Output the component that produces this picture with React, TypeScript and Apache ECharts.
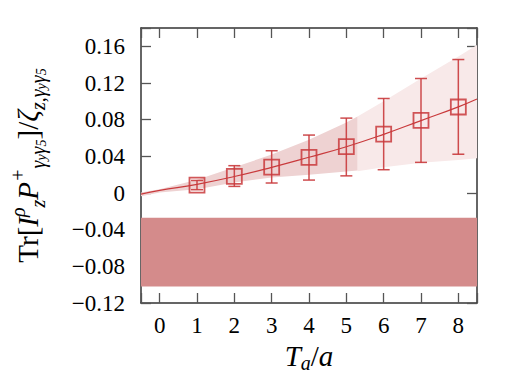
import React, { useEffect, useRef } from "react";
import * as echarts from "echarts";

// Data points (T_a/a, ratio and error range)
const tValues = [1, 2, 3, 4, 5, 6, 7, 8];
const ratioMean = [0.0087, 0.0181, 0.0283, 0.0388, 0.0505, 0.0643, 0.0793, 0.0938];
const ratioLow = [0.0036, 0.0072, 0.0109, 0.0141, 0.0187, 0.0254, 0.0334, 0.0423];
const ratioHigh = [0.0137, 0.0298, 0.0461, 0.0632, 0.0817, 0.1031, 0.1249, 0.1456];

// Fit curve
const fitT = [-0.5, 0, 1, 2, 3, 4, 5, 6, 7, 8, 8.5];
const fitMean = [-0.0012, 0.0028, 0.0095, 0.018, 0.028, 0.039, 0.0505, 0.064, 0.079, 0.094, 0.1025];

// Fit error band (fit range)
const bandT = [-0.5, 0, 1, 2, 3, 4, 5, 5.3];
const bandUpper = [0.0005, 0.004, 0.0145, 0.028, 0.042, 0.058, 0.077, 0.0835];
const bandLower = [-0.0035, 0.0005, 0.004, 0.0115, 0.017, 0.02, 0.0235, 0.0245];

// Extrapolated error band
const extT = [5.3, 6, 7, 8, 8.5];
const extUpper = [0.0835, 0.1, 0.125, 0.149, 0.1615];
const extLower = [0.0236, 0.028, 0.033, 0.036, 0.038];

// Horizontal constant band
const constBand = [-0.102, -0.027];

const xRange = [-0.5, 8.5];
const yRange = [-0.12, 0.18];
const yStep = 0.04;

const RED = "#c93a3c";
const FONT = "Liberation Serif";

function bandSeries(ts: number[], up: number[], lo: number[], color: string, z: number) {
  return {
    type: "custom",
    silent: true,
    z,
    data: [0],
    renderItem: (_p: any, api: any) => {
      const pts: number[][] = [];
      for (let i = 0; i < ts.length; i++) pts.push(api.coord([ts[i], up[i]]));
      for (let i = ts.length - 1; i >= 0; i--) pts.push(api.coord([ts[i], lo[i]]));
      return { type: "polygon", shape: { points: pts }, style: { fill: color } };
    },
  };
}

export default function App() {
  const ref = useRef<HTMLDivElement>(null);
  useEffect(() => {
    if (!ref.current) return;
    const chart = echarts.init(ref.current, undefined, { renderer: "svg" });
    const axisLine = { lineStyle: { color: "#333", width: 1.5 } };
    const tick = { inside: true, length: 10, lineStyle: { color: "#555", width: 1.3 } };
    const xCommon = {
      type: "value",
      min: xRange[0],
      max: xRange[1],
      splitNumber: 9,
      minInterval: 1,
      maxInterval: 1,
      splitLine: { show: false },
      axisLine: { ...axisLine, onZero: false },
      axisTick: tick,
    };
    const yCommon = {
      type: "value",
      min: yRange[0],
      max: yRange[1],
      interval: yStep,
      splitLine: { show: false },
      axisLine: { ...axisLine, onZero: false },
      axisTick: tick,
    };
    chart.setOption({
      animation: false,
      grid: { left: 139, top: 28, right: 46, bottom: 88, containLabel: false },
      xAxis: [
        {
          ...xCommon,
          position: "bottom",
          axisLabel: {
            margin: 11,
            fontFamily: FONT,
            fontSize: 23,
            color: "#000",
            formatter: (v: number) => (Number.isInteger(v) ? String(v) : ""),
          },
          name: "{it|T}{sub|a}{rm|/}{it|a}",
          nameLocation: "middle",
          nameGap: 33,
          nameTextStyle: {
            rich: {
              it: { fontFamily: FONT, fontStyle: "italic", fontSize: 29, color: "#000", lineHeight: 34 },
              rm: { fontFamily: FONT, fontSize: 29, color: "#000", lineHeight: 34 },
              sub: { fontFamily: FONT, fontStyle: "italic", fontSize: 20, color: "#000", lineHeight: 20, verticalAlign: "bottom" },
            },
          },
        },
        { ...xCommon, position: "top", axisLabel: { show: false } },
      ],
      yAxis: [
        {
          ...yCommon,
          position: "left",
          axisLabel: {
            margin: 16,
            fontFamily: FONT,
            fontSize: 23,
            color: "#000",
            formatter: (v: number) => {
              if (v > yRange[1] - yStep / 2) return "";
              if (Math.abs(v) < 1e-9) return "0";
              return (v < 0 ? "\u2212" : "") + Math.abs(v).toFixed(2);
            },
          },
          name:
            "{rm|Tr[}{it|I}{sup|ρ}{sub|z}{it|P}{sup|+}{sub|γ}{ss|y}{sub|γ}{ss|5}{rm|]/}{it|ζ}{sub|z,γ}{ss|y}{sub|γ}{ss|5}",
          nameLocation: "middle",
          nameRotate: 90,
          nameGap: 93,
          nameTextStyle: {
            rich: {
              it: { fontFamily: FONT, fontStyle: "italic", fontSize: 29, color: "#000", lineHeight: 40 },
              rm: { fontFamily: FONT, fontSize: 29, color: "#000", lineHeight: 40 },
              sup: { fontFamily: FONT, fontStyle: "italic", fontSize: 20, color: "#000", lineHeight: 22, verticalAlign: "top" },
              sub: { fontFamily: FONT, fontStyle: "italic", fontSize: 20, color: "#000", lineHeight: 18, verticalAlign: "bottom" },
              ss: { fontFamily: FONT, fontStyle: "italic", fontSize: 14, color: "#000", lineHeight: 10, verticalAlign: "bottom" },
            },
          },
        },
        { ...yCommon, position: "right", axisLabel: { show: false } },
      ],
      series: [
        bandSeries(extT, extUpper, extLower, "#f8e9e9", 1),
        bandSeries(bandT, bandUpper, bandLower, "#eed2d2", 2),
        {
          type: "line",
          z: 3,
          data: fitT.map((t, i) => [t, fitMean[i]]),
          smooth: true,
          showSymbol: false,
          lineStyle: { color: RED, width: 1.2 },
          markArea: {
            silent: true,
            itemStyle: { color: "#d48b8b", opacity: 1 },
            data: [[{ yAxis: constBand[1] }, { yAxis: constBand[0] }]],
          },
        },
        {
          type: "custom",
          z: 4,
          data: tValues.map((t, i) => [t, ratioLow[i], ratioHigh[i]]),
          encode: { x: 0, y: [1, 2] },
          renderItem: (_p: any, api: any) => {
            const x = api.value(0);
            const lo = api.coord([x, api.value(1)]);
            const hi = api.coord([x, api.value(2)]);
            const w = 6;
            const st = { stroke: RED, lineWidth: 1.5, opacity: 0.9 };
            return {
              type: "group",
              children: [
                { type: "line", shape: { x1: lo[0], y1: lo[1], x2: hi[0], y2: hi[1] }, style: st },
                { type: "line", shape: { x1: lo[0] - w, y1: lo[1], x2: lo[0] + w, y2: lo[1] }, style: st },
                { type: "line", shape: { x1: hi[0] - w, y1: hi[1], x2: hi[0] + w, y2: hi[1] }, style: st },
              ],
            };
          },
        },
        {
          type: "scatter",
          z: 5,
          data: tValues.map((t, i) => [t, ratioMean[i]]),
          symbol: "rect",
          symbolSize: 15,
          itemStyle: { color: "rgba(0,0,0,0)", borderColor: RED, borderWidth: 1.8, opacity: 0.85 },
        },
      ],
    });
    return () => chart.dispose();
  }, []);
  return <div ref={ref} style={{ width: 523, height: 391, margin: -8 }} />;
}
